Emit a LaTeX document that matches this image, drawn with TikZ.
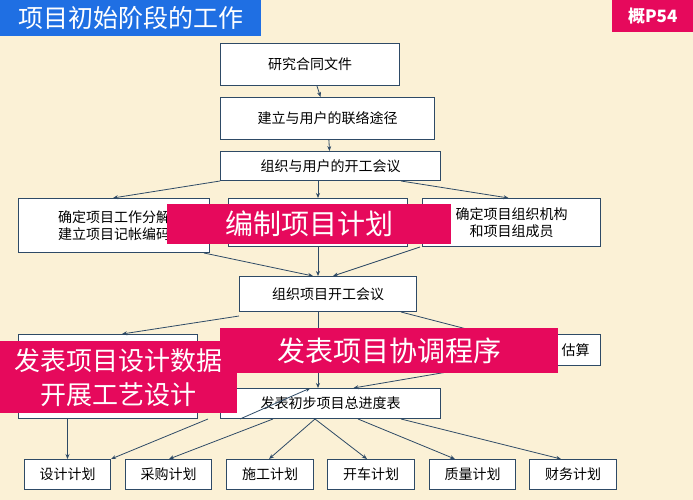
\documentclass[tikz,border=0pt]{standalone}
\usepackage{fontspec}
\setmainfont{Noto Sans CJK SC}
\usetikzlibrary{arrows.meta}
\definecolor{bg}{HTML}{FBF1D6}
\definecolor{bd}{HTML}{2E4A66}
\definecolor{pk}{HTML}{E6095C}
\definecolor{bl}{HTML}{1F6FE3}
\begin{document}
\begin{tikzpicture}[x=1pt,y=-1pt,
  bx/.style={draw=bd,line width=1pt,fill=white,font=\fontsize{14}{17}\selectfont},
  ov/.style={fill=pk,text=white,font=\fontsize{28}{32}\selectfont,inner sep=0pt},
  ar/.style={draw=bd,line width=0.8pt,-{Stealth[length=5pt,width=4pt]}}]
\useasboundingbox (0,0) rectangle (693,500);
\fill[bg] (0,0) rectangle (693,500);
\newcommand{\bxn}[6]{\node[bx,minimum width=#4-#2,minimum height=#5-#3,anchor=north west,inner sep=0pt,align=center] (#1) at (#2,#3) {#6};}
% title
\node[fill=bl,text=white,font=\fontsize{25}{28}\selectfont,anchor=north west,minimum width=261,minimum height=36,inner sep=0pt] (title) at (0,0) {项目初始阶段的工作};
\node[fill=pk,text=white,font=\bfseries\fontsize{17}{20}\selectfont,anchor=north west,minimum width=81,minimum height=32,inner sep=0pt] (pg) at (612,0) {概P54};
\bxn{b1}{220}{43}{399}{85}{研究合同文件}
\bxn{b2}{220}{97}{434}{139}{建立与用户的联络途径}
\bxn{b3}{220}{151}{440}{180}{组织与用户的开工会议}
\bxn{l1}{18}{198}{209}{252}{确定项目工作分解\\建立项目记帐编码}
\bxn{m1}{228}{198}{407}{246}{}
\bxn{r1}{422}{198}{600}{246}{确定项目组织机构\\和项目组成员}
\bxn{b4}{239}{276}{416}{311}{组织项目开工会议}
\bxn{l2}{18}{334}{197}{418}{}
\bxn{r2}{430}{334}{600}{365}{\hspace*{120pt}估算}
\bxn{b5}{220}{388}{440}{418}{发表初步项目总进度表}
\bxn{p1}{24}{459}{110}{489}{设计计划}
\bxn{p2}{125}{459}{211}{489}{采购计划}
\bxn{p3}{226}{459}{313}{489}{施工计划}
\bxn{p4}{327}{459}{414}{489}{开车计划}
\bxn{p5}{429}{459}{515}{489}{质量计划}
\bxn{p6}{529}{459}{616}{489}{财务计划}
% arrows
\draw[ar] (b1) -- (b2);
\draw[ar] (b2) -- (b3);
\draw[ar] (b3.south west) -- ([xshift=-1]l1.north);
\draw[ar] (b3.south-|m1.north) -- (m1.north);
\draw[ar] ([xshift=-40]b3.south east) -- ([xshift=-3]r1.north);
\draw[ar] ([xshift=-6]l1.south east) -- ([xshift=-15]b4.north);
\draw[ar] (m1.south) -- (m1.south|-b4.north);
\draw[ar] ([xshift=-2]r1.south west) -- ([xshift=5]b4.north);
\draw[ar] ([yshift=-4]b4.south west) -- ([xshift=14]l2.north);
\draw[ar] (b4.south-|m1.south) -- (b5.north-|m1.south);
\draw[ar] ([xshift=-16]b4.south east) -- ([xshift=56]r2.north west);
\draw[ar] ([xshift=42]l2.south east) -- ([xshift=-20]b5.north);
\draw[ar] ([xshift=-33]r2.south) -- ([xshift=23]b5.north);
\draw[ar] (p1.north|-l2.south) -- (p1.north);
\draw[ar] ([xshift=-12]b5.south west) -- (p1.north east);
\draw[ar] ([xshift=53]b5.south west) -- ([xshift=-43]p2.north east);
\draw[ar] ([xshift=95]b5.south west) -- ([xshift=43]p3.north west);
\draw[ar] ([xshift=95]b5.south west) -- ([xshift=40]p4.north west);
\draw[ar] ([xshift=138]b5.south west) -- ([xshift=26]p5.north west);
\draw[ar] ([xshift=-40]b5.south east) -- ([xshift=32]p6.north west);
% overlays
\node[ov,anchor=north west,minimum width=284,minimum height=40] (o1) at (167,204) {编制项目计划};
\node[ov,anchor=north west,minimum width=338,minimum height=45] (o2) at (220,328) {发表项目协调程序};
\node[ov,anchor=north west,minimum width=237,minimum height=72,align=center,font=\fontsize{26}{34}\selectfont] (o3) at (0,341) {发表项目设计数据\\开展工艺设计};
\end{tikzpicture}
\end{document}
